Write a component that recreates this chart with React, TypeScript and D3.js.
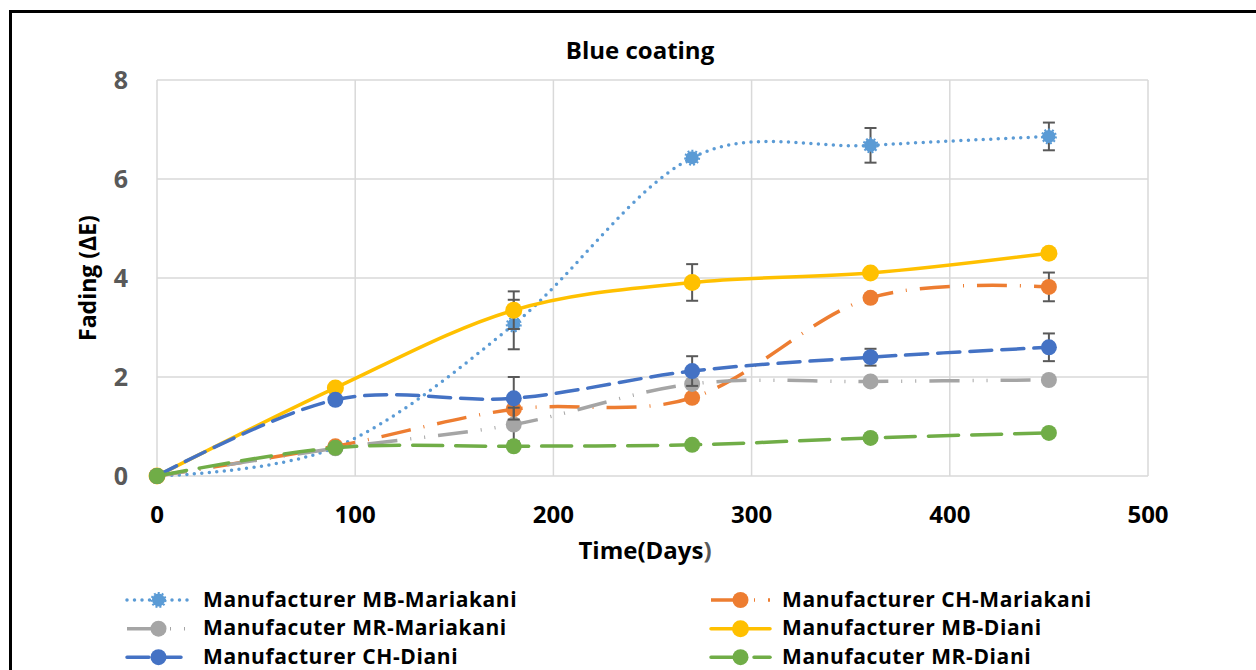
import React, { useRef, useEffect } from "react";
import * as d3 from "d3";

const days = [0, 90, 180, 270, 360, 450];

const mbMariakani = [0, 0.58, 3.06, 6.43, 6.68, 6.86];
const chMariakani = [0, 0.6, 1.35, 1.58, 3.6, 3.82];
const mrMariakani = [0, 0.56, 1.04, 1.86, 1.91, 1.94];
const mbDiani = [0, 1.78, 3.35, 3.91, 4.1, 4.5];
const chDiani = [0, 1.54, 1.57, 2.12, 2.4, 2.6];
const mrDiani = [0, 0.57, 0.6, 0.63, 0.77, 0.87];

// error bar half-widths (0 = not shown)
const mbMariakaniErr = [0, 0, 0.5, 0, 0.35, 0.28];
const chMariakaniErr = [0, 0, 0, 0, 0, 0.29];
const mrMariakaniErr = [0, 0, 0.34, 0, 0, 0];
const mbDianiErr = [0, 0, 0.38, 0.37, 0, 0];
const chDianiErr = [0, 0, 0.43, 0.3, 0.17, 0.28];
const mrDianiErr = [0, 0, 0, 0, 0, 0];

const seriesNames = [
  "Manufacturer MB-Mariakani",
  "Manufacturer CH-Mariakani",
  "Manufacuter MR-Mariakani",
  "Manufacturer MB-Diani",
  "Manufacturer CH-Diani",
  "Manufacuter MR-Diani",
];

const xTicks = [0, 100, 200, 300, 400, 500];
const yTicks = [0, 2, 4, 6, 8];

const FONT = "'Open Sans', Lato, sans-serif";

const series = [
  { name: seriesNames[0], values: mbMariakani, err: mbMariakaniErr, color: "#5B9BD5", dash: "0 7.5", cap: "round", r: 7, gear: true },
  { name: seriesNames[1], values: chMariakani, err: chMariakaniErr, color: "#ED7D31", dash: "30 13 1 13", cap: "butt", r: 8 },
  { name: seriesNames[2], values: mrMariakani, err: mrMariakaniErr, color: "#A5A5A5", dash: "30 13 1 13 1 13", cap: "butt", r: 8 },
  { name: seriesNames[3], values: mbDiani, err: mbDianiErr, color: "#FFC000", dash: null, cap: "round", r: 8.5 },
  { name: seriesNames[4], values: chDiani, err: chDianiErr, color: "#4472C4", dash: "22 10", cap: "round", r: 8 },
  { name: seriesNames[5], values: mrDiani, err: mrDianiErr, color: "#70AD47", dash: "30 13", cap: "round", r: 8 },
];

const App = () => {
  const svgRef = useRef<SVGSVGElement>(null);

  useEffect(() => {
    const svg = d3.select(svgRef.current);
    svg.selectAll("*").remove();

    const width = 1256;
    const height = 670;
    const plot = { left: 157, right: 1148, top: 80, bottom: 476 };

    const x = d3.scaleLinear().domain([0, 500]).range([plot.left, plot.right]);
    const y = d3.scaleLinear().domain([0, 8]).range([plot.bottom, plot.top]);

    svg.append("rect").attr("width", width).attr("height", height).attr("fill", "#fff");

    // outer frame (cut off on the right and bottom)
    svg.append("path")
      .attr("d", `M10.5,${height + 5} V11.5 H${width + 5}`)
      .attr("fill", "none")
      .attr("stroke", "#000")
      .attr("stroke-width", 3);

    // gridlines
    const grid = svg.append("g").attr("stroke", "#D9D9D9").attr("stroke-width", 1.5);
    yTicks.forEach((t) => {
      grid.append("line").attr("x1", plot.left).attr("x2", plot.right).attr("y1", y(t)).attr("y2", y(t));
    });
    xTicks.forEach((t) => {
      grid.append("line").attr("x1", x(t)).attr("x2", x(t)).attr("y1", plot.top).attr("y2", plot.bottom);
    });

    // tick labels
    svg.append("g")
      .selectAll("text")
      .data(yTicks)
      .join("text")
      .attr("x", 121)
      .attr("y", (d) => y(d) + 9)
      .attr("text-anchor", "middle")
      .attr("font-family", FONT)
      .attr("font-weight", "bold")
      .attr("font-size", 25)
      .attr("fill", "#595959")
      .text((d) => d);

    svg.append("g")
      .selectAll("text")
      .data(xTicks)
      .join("text")
      .attr("x", (d) => x(d))
      .attr("y", 523)
      .attr("text-anchor", "middle")
      .attr("font-family", FONT)
      .attr("font-weight", "bold")
      .attr("font-size", 24)
      .attr("fill", "#000")
      .text((d) => d);

    // titles
    svg.append("text")
      .attr("x", 640)
      .attr("y", 59)
      .attr("text-anchor", "middle")
      .attr("font-family", FONT)
      .attr("font-weight", "bold")
      .attr("font-size", 24)
      .text("Blue coating");

    const xt = svg.append("text")
      .attr("x", 645)
      .attr("y", 559)
      .attr("text-anchor", "middle")
      .attr("font-family", FONT)
      .attr("font-weight", "bold")
      .attr("font-size", 24);
    xt.append("tspan").attr("fill", "#000").text("Time(Days");
    xt.append("tspan").attr("fill", "#595959").text(")");

    svg.append("text")
      .attr("transform", `translate(96,278) rotate(-90)`)
      .attr("text-anchor", "middle")
      .attr("font-family", FONT)
      .attr("font-weight", "bold")
      .attr("font-size", 23)
      .text("Fading (ΔE)");

    // series
    const line = d3
      .line<number>()
      .x((_, i) => x(days[i]))
      .y((d) => y(d))
      .curve(d3.curveCardinal);

    const drawMarker = (g, cx, cy, s) => {
      if (s.gear) {
        g.append("circle").attr("cx", cx).attr("cy", cy).attr("r", s.r - 0.5).attr("fill", s.color);
        g.append("circle")
          .attr("cx", cx).attr("cy", cy).attr("r", s.r)
          .attr("fill", "none")
          .attr("stroke", s.color)
          .attr("stroke-width", 2)
          .attr("stroke-dasharray", "2 2");
      } else {
        g.append("circle").attr("cx", cx).attr("cy", cy).attr("r", s.r).attr("fill", s.color);
      }
    };

    series.forEach((s) => {
      const g = svg.append("g");
      g.append("path")
        .attr("d", line(s.values))
        .attr("fill", "none")
        .attr("stroke", s.color)
        .attr("stroke-width", 3.5)
        .attr("stroke-linecap", s.cap)
        .attr("stroke-dasharray", s.dash);

      const eb = g.append("g").attr("stroke", "#595959").attr("stroke-width", 2);
      s.values.forEach((v, i) => {
        const e = s.err[i];
        if (!e) return;
        const cx = x(days[i]);
        eb.append("line").attr("x1", cx).attr("x2", cx).attr("y1", y(v - e)).attr("y2", y(v + e));
        eb.append("line").attr("x1", cx - 6).attr("x2", cx + 6).attr("y1", y(v - e)).attr("y2", y(v - e));
        eb.append("line").attr("x1", cx - 6).attr("x2", cx + 6).attr("y1", y(v + e)).attr("y2", y(v + e));
      });

      s.values.forEach((v, i) => drawMarker(g, x(days[i]), y(v), s));
    });

    // legend (row-major, two columns)
    const colX = [{ l: 127, r: 190, t: 203 }, { l: 711, r: 770, t: 782 }];
    const rowY = [600, 628.7, 657.2];
    series.forEach((s, i) => {
      const c = colX[i % 2];
      const ry = rowY[Math.floor(i / 2)];
      const g = svg.append("g");
      g.append("line")
        .attr("x1", c.l).attr("x2", c.r).attr("y1", ry).attr("y2", ry)
        .attr("stroke", s.color)
        .attr("stroke-width", 3.5)
        .attr("stroke-linecap", s.cap)
        .attr("stroke-dasharray", s.dash);
      drawMarker(g, (c.l + c.r) / 2, ry, s);
      g.append("text")
        .attr("x", c.t)
        .attr("y", ry + 6.5)
        .attr("font-family", FONT)
        .attr("font-weight", "bold")
        .attr("font-size", 21)
        .attr("letter-spacing", 0.6)
        .attr("fill", "#000")
        .text(s.name);
    });
  }, []);

  return (
    <svg
      ref={svgRef}
      width={1256}
      height={670}
      style={{ position: "absolute", left: 0, top: 0, display: "block" }}
    ></svg>
  );
};

export default App;
